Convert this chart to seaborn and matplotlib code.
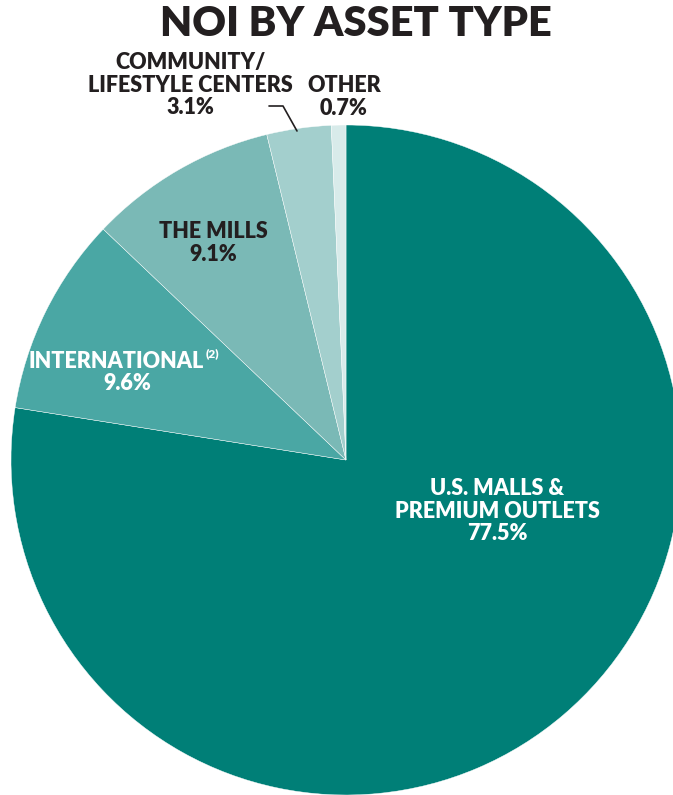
import matplotlib
matplotlib.use("Agg")
import matplotlib.pyplot as plt
import seaborn as sns

sns.set_theme(style="white")
plt.rcParams['font.family'] = ['Lato', 'DejaVu Sans']

categories = ["U.S. MALLS &\nPREMIUM OUTLETS", "INTERNATIONAL", "THE MILLS",
              "COMMUNITY/\nLIFESTYLE CENTERS", "OTHER"]
values = [77.5, 9.6, 9.1, 3.1, 0.7]
colors = ["#007F77", "#4AA7A4", "#7AB9B6", "#A3CFCD", "#D8EBEA"]

W, H = 673, 795
fig = plt.figure(figsize=(W / 100, H / 100), dpi=100)
ax = fig.add_axes([0, 0, 1, 1])

cx, cy, r = 346, H - 460, 335
ax.pie(values, colors=colors, startangle=90, counterclock=False,
       center=(cx, cy), radius=r, frame=True,
       wedgeprops=dict(linewidth=0.3, edgecolor="white"))
ax.set_xlim(0, W)
ax.set_ylim(0, H)
ax.set_aspect('equal')
ax.axis('off')

def T(x, y, s, color, size=15.5, **kw):
    ax.text(x, H - y, s, color=color, fontsize=size, fontweight='heavy',
            ha='center', va='center', linespacing=1.1, **kw)

dark = "#231F20"
T(356, 24, "NOI BY ASSET TYPE", dark, size=30)

pct = [f"{v:.1f}%" for v in values]
T(497, 511, categories[0] + "\n" + pct[0], "white")
T(116, 361, categories[1], "white")
ax.text(206, H - 354, "(2)", color="white", fontsize=8.5, fontweight='heavy',
        ha='left', va='center')
T(127, 383, pct[1], "white")
T(213, 243, categories[2] + "\n" + pct[2], dark)
T(190, 85, categories[3] + "\n" + pct[3], dark)
T(344, 97, categories[4] + "\n" + pct[4], dark)

ax.plot([269, 283, 297], [H - 106, H - 106, H - 131], color=dark, lw=1.2)

fig.savefig("out.png", dpi=100)
